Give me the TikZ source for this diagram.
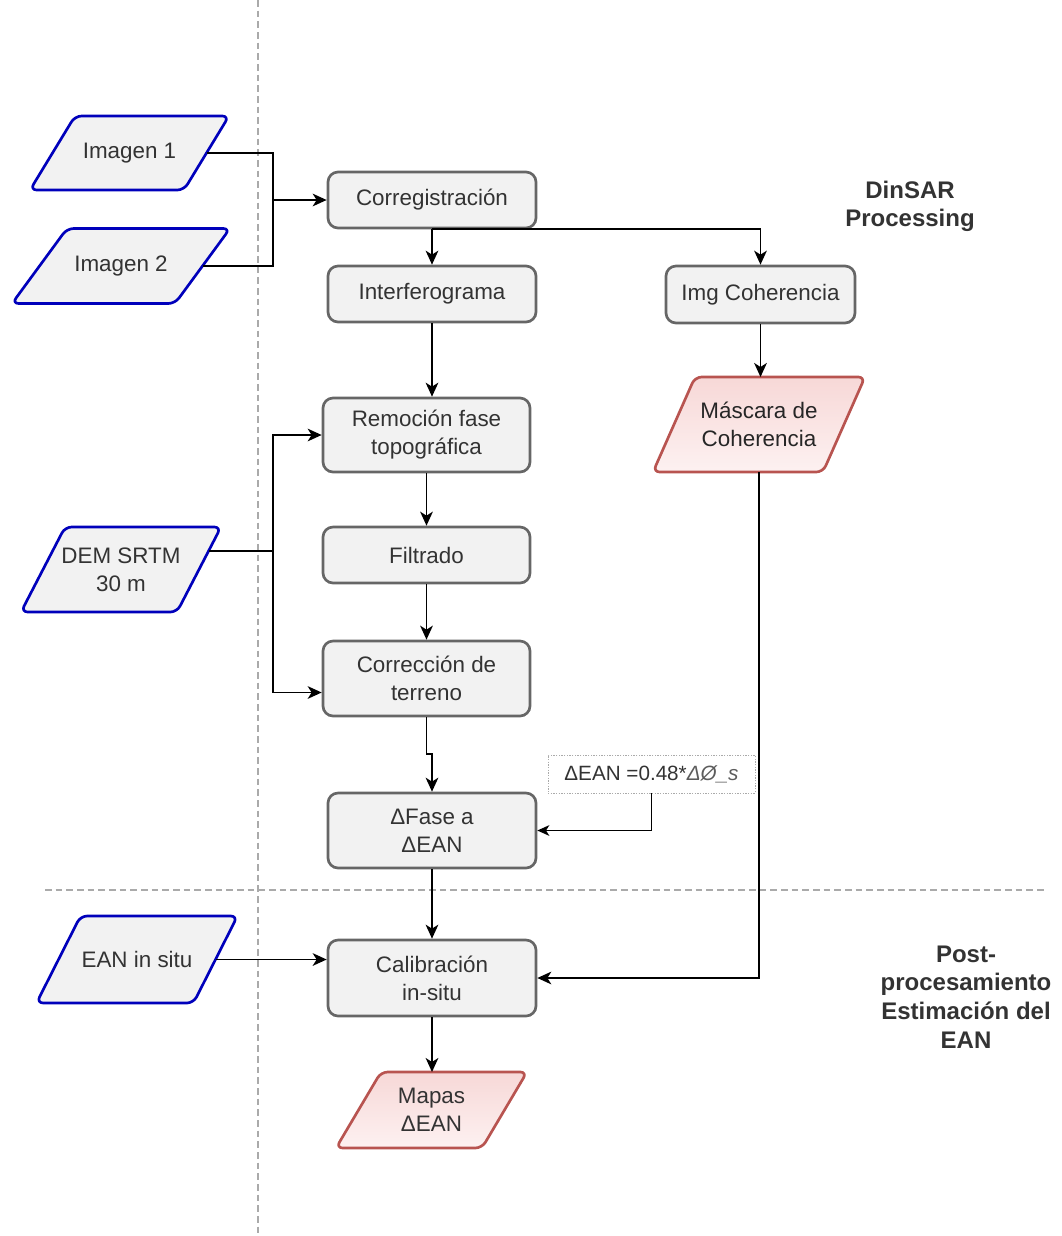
\documentclass[tikz,border=0pt]{standalone}
\usepackage{fontspec}
\setmainfont{Liberation Sans}
\usetikzlibrary{arrows.meta,backgrounds}
\definecolor{txt}{HTML}{333333}
\definecolor{boxfill}{HTML}{F2F2F2}
\definecolor{boxline}{HTML}{666666}
\definecolor{bluel}{HTML}{0000BB}
\definecolor{redl}{HTML}{B85450}
\definecolor{redtop}{HTML}{F7D8D7}
\definecolor{redbot}{HTML}{FDF1F1}
\definecolor{sepc}{HTML}{AAAAAA}
\newcommand\drawpara[3]{%
  \draw[#3] ([shift={({#2/2},0)}]#1.north west) -- ([shift={({#2/2},0)}]#1.north east)
    -- ([shift={({-#2/2},0)}]#1.south east) -- ([shift={({-#2/2},0)}]#1.south west) -- cycle;}
\begin{document}
\begin{tikzpicture}[x=0.75pt,y=-0.75pt,
  base/.style={font=\fontsize{16.8}{21}\selectfont, align=center, inner sep=0pt, text=txt},
  sz/.style 2 args={minimum width=#1*0.75pt, minimum height=#2*0.75pt},
  procbox/.style={base, draw=boxline, fill=boxfill, line width=2pt, rounded corners=7.5pt, outer sep=1pt},
  parabox/.style={base, outer sep=0pt},
  bluepara/.style={draw=bluel, fill=boxfill, line width=2pt, rounded corners=5pt, line join=round},
  redpara/.style={draw=redl, top color=redtop, bottom color=redbot, line width=2pt, rounded corners=5pt, line join=round},
  conn/.style={draw=black, line width=1.4pt},
  arr/.style={conn, -{Stealth[length=10.5pt,width=9.5pt,inset=3pt]}},
  formbox/.style={base, font=\fontsize{15.5}{21}\selectfont, draw=sepc, line width=0.7pt, dash pattern=on 1pt off 1pt, outer sep=0pt},
  sectionlbl/.style={font=\bfseries\fontsize{18}{21.5}\selectfont, align=center, text=txt},
  sepline/.style={draw=sepc, line width=0.8pt, dash pattern=on 5pt off 3pt},
]
\useasboundingbox (0,0) rectangle (1061,1236);

% separators
\coordinate (vtop) at (258,0);
\coordinate (vbot) at (258,1236);
\coordinate (hl) at (45,890);
\coordinate (hr) at (1045,890);
\draw[sepline] (vtop) -- (vbot);
\draw[sepline] (hl) -- (hr);

% process boxes
\node[procbox, sz={208}{56}] (corr) at (432,200) {Corregistración};
\node[procbox, sz={208}{56}] (interf) at (432,294) {Interferograma};
\node[procbox, sz={189}{57}] (imgcoh) at (760.5,294.5) {Img Coherencia};
\node[procbox, sz={207}{74}] (remo) at (426.5,435) {Remoción fase\\topográfica};
\node[procbox, sz={207}{56}] (filt) at (426.5,555) {Filtrado};
\node[procbox, sz={207}{75}] (corrt) at (426.5,678.5) {Corrección de\\terreno};
\node[procbox, sz={208}{75}] (fase) at (432,830.5) {ΔFase a\\ΔEAN};
\node[procbox, sz={208}{76}] (calib) at (432,978) {Calibración\\in-situ};

% data (parallelograms)
\node[parabox, sz={154}{74}] (img1) at (129.5,153) {Imagen 1};
\node[parabox, sz={163}{75}] (img2) at (121,266) {Imagen 2};
\node[parabox, sz={156}{85}] (dem) at (121,569.5) {DEM SRTM\\30 m};
\node[parabox, sz={157}{87}] (ean) at (137,959.5) {EAN in situ};
\node[parabox, sz={170}{95}, text=black!85] (masc) at (759,424.5) {Máscara de\\Coherencia};
\node[parabox, sz={146}{76}] (mapas) at (431.5,1110) {Mapas\\ΔEAN};

\begin{scope}[on background layer]
\drawpara{img1}{45}{bluepara}
\drawpara{img2}{55}{bluepara}
\drawpara{dem}{44}{bluepara}
\drawpara{ean}{44}{bluepara}
\drawpara{masc}{42}{redpara}
\drawpara{mapas}{45}{redpara}
\end{scope}

% formula
\node[formbox, sz={207}{38}] (form) at (651.5,774) {ΔEAN =0.48*\textcolor{txt!80}{\itshape ΔØ\_s}};

% labels
\node[sectionlbl] (dinsar) at (910,206.5) {DinSAR\\Processing};
\node[sectionlbl] (post) at (966,997) {Post-\\procesamiento\\Estimación del\\EAN};

% connectors
\coordinate (j1) at (273,200);
\draw[conn] (img1.east) -| (j1);
\draw[conn] (img2.east) -| (j1);
\draw[arr] (j1) -- (corr.west);
\draw[arr] (corr.south) -- (interf.north);
\draw[arr] (corr.south) -| (imgcoh.north);
\draw[arr] (interf.south) -- (interf.south |- remo.north);
\draw[arr] (remo.south) -- (filt.north);
\draw[arr] (filt.south) -- (corrt.north);
\draw[arr] (corrt.south) -- ++(0,37) -| (fase.north);
\draw[arr] (imgcoh.south) -- (imgcoh.south |- masc.north);
\draw[arr] (masc.south) |- (calib.east);
\coordinate (j2) at (273,551);
\draw[conn] ([shift={(10,-18.5)}]dem.east) -- (j2);
\draw[arr] (j2) |- (remo.west);
\draw[arr] (j2) |- ([shift={(0,14)}]corrt.west);
\draw[conn, line width=1.1pt, -{Stealth[length=9pt,width=8pt,inset=2.5pt]}] (form.south) |- (fase.east);
\draw[arr] (fase.south) -- (calib.north);
\draw[arr] (ean.east) -- (ean.east -| calib.west);
\draw[arr] (calib.south) -- (calib.south |- mapas.north);
\end{tikzpicture}
\end{document}
